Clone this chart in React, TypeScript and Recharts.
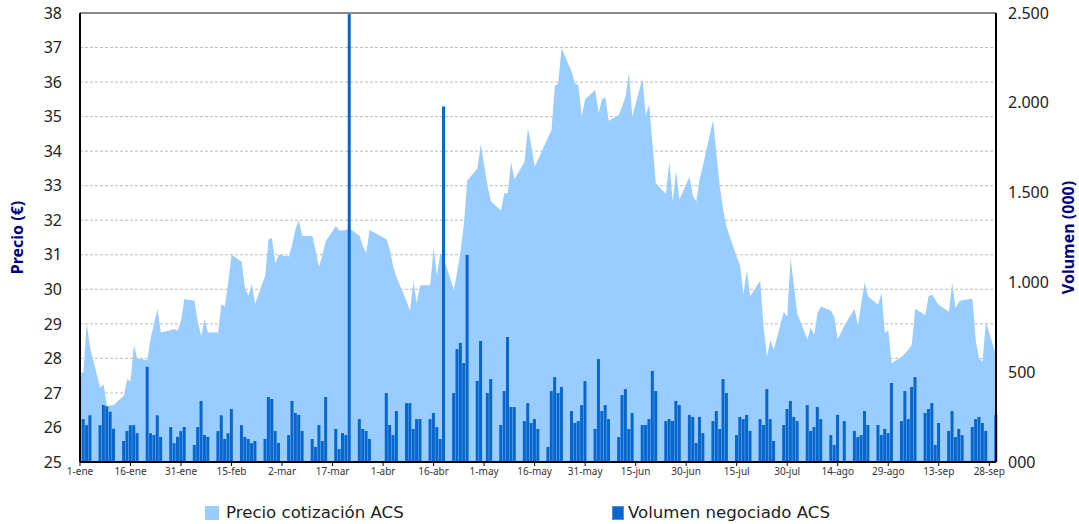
import {
  ComposedChart,
  Area,
  Bar,
  XAxis,
  YAxis,
  CartesianGrid,
  ReferenceLine,
  Label,
} from 'recharts';

// dias desde el 1-ene (sesiones de bolsa)
const dias = [
  0, 1, 2, 3,
  6, 7, 8, 9, 10,
  13, 14, 15, 16, 17,
  20, 21, 22, 23, 24,
  27, 28, 29, 30, 31,
  34, 35, 36, 37, 38,
  41, 42, 43, 44, 45,
  48, 49, 50, 51, 52,
  55, 56, 57, 58, 59,
  62, 63, 64, 65, 66,
  69, 70, 71, 72, 73,
  76, 77, 78, 79, 80,
  83, 84, 85, 86,
  91, 92, 93, 94,
  97, 98, 99, 100, 101,
  104, 105, 106, 107, 108,
  111, 112, 113, 114, 115,
  118, 119, 121, 122,
  125, 126, 127, 128, 129,
  132, 133, 134, 135, 136,
  139, 140, 141, 142, 143,
  146, 147, 148, 149, 150,
  153, 154, 155, 156, 157,
  160, 161, 162, 163, 164,
  167, 168, 169, 170, 171,
  174, 175, 176, 177, 178,
  181, 182, 183, 184, 185,
  188, 189, 190, 191, 192,
  195, 196, 197, 198, 199,
  202, 203, 204, 205, 206,
  209, 210, 211, 212, 213,
  216, 217, 218, 219, 220,
  223, 224, 225, 227,
  230, 231, 232, 233, 234,
  237, 238, 239, 240, 241,
  244, 245, 246, 247, 248,
  251, 252, 253, 254, 255,
  258, 259, 260, 261, 262,
  265, 266, 267, 268, 269,
  272,
];

const precio = [
  27.57, 27.6, 29.02, 28.3,
  27.15, 27.25, 26.63, 26.63, 26.65,
  26.92, 27.4, 27.33, 28.38, 28.0,
  27.95, 28.6, 29.0, 29.43, 28.75,
  28.82, 28.85, 28.8, 29.1, 29.72,
  29.67, 29.04, 28.65, 29.14, 28.75,
  28.75, 29.57, 29.5, 30.2, 31.0,
  30.8, 30.03, 29.81, 30.15, 29.57,
  30.4, 31.45, 31.48, 30.75, 31.0,
  30.95, 31.3, 31.75, 32.0, 31.54,
  31.54, 31.1, 30.65, 31.0, 31.4,
  31.83, 31.7, 31.7, 31.72, 31.77,
  31.55, 31.25, 31.05, 31.72,
  31.45, 31.15, 30.65, 30.35,
  29.65, 29.38, 30.22, 29.6, 30.12,
  30.12, 31.2, 30.4, 31.05, 30.9,
  29.98, 30.5, 31.1, 31.9, 33.15,
  33.5, 34.2, 33.0, 32.55,
  32.28, 32.78, 32.78, 33.68, 33.19,
  33.69, 34.66, 34.18, 33.55, 33.75,
  34.4, 34.6, 35.89, 35.96, 36.98,
  36.3, 35.96, 35.91, 35.0, 35.5,
  35.77, 35.1, 35.5, 35.55, 34.88,
  35.05, 35.3, 35.58, 36.27, 35.0,
  36.1, 35.05, 35.34, 34.2, 33.07,
  32.76, 33.69, 32.54, 33.43, 32.6,
  33.26, 32.7, 32.54, 33.2, 33.6,
  34.9, 33.9, 32.97, 32.3, 31.8,
  30.95, 30.7, 29.85, 30.55, 29.8,
  30.25, 28.9, 28.05, 28.53, 28.24,
  29.35, 29.2, 30.9, 30.1, 29.3,
  28.55, 28.9, 28.68, 29.3, 29.5,
  29.38, 29.2, 28.55, 28.95,
  29.44, 28.96, 29.6, 30.2, 29.79,
  29.55, 29.9, 28.73, 28.82, 27.86,
  28.05, 28.15, 28.25, 28.4, 29.44,
  29.25, 29.8, 29.85, 29.7, 29.55,
  29.35, 30.19, 29.45, 29.65, 29.68,
  29.73, 28.5, 28.0, 27.9, 29.05,
  28.1,
];

// miles de títulos
const volumen = [
  null, 239, 205, 260,
  205, 317, 310, 280, 185,
  117, 172, 205, 205, 160,
  530, 160, 150, 260, 140,
  195, 105, 140, 172, 195,
  95, 195, 340, 150, 140,
  172, 260, 128, 160, 295,
  205, 140, 128, 105, 117,
  128, 362, 351, 173, 106,
  150, 340, 273, 262, 173,
  128, 84, 206, 117, 362,
  184, 72, 161, 150, 2500,
  239, 184, 173, 128,
  384, 206, 150, 284,
  328, 328, 184, 239, 239,
  239, 273, 195, 128, 1980,
  384, 629, 663, 551, 1153,
  451, 674, 384, 462,
  206, 395, 696, 306, 306,
  228, 328, 217, 239, 184,
  84, 395, 473, 384, 418,
  284, 217, 228, 317, 451,
  184, 573, 284, 317, 239,
  139, 373, 406, 184, 273,
  206, 206, 239, 507, 395,
  228, 239, 228, 340, 317,
  262, 251, 106, 251, 161,
  228, 284, 184, 462, 384,
  150, 251, 239, 262, 173,
  239, 206, 406, 239, 117,
  206, 295, 340, 251, 228,
  317, 173, 195, 306, 239,
  150, 95, 262, 228,
  173, 139, 150, 284, 206,
  206, 150, 184, 161, 440,
  228, 395, 239, 418, 473,
  273, 295, 328, 95, 217,
  173, 284, 139, 184, 150,
  195, 239, 251, 217, 173,
  262,
];

const etiquetasFecha = [
  '1-ene', '16-ene', '31-ene', '15-feb', '2-mar', '17-mar', '1-abr',
  '16-abr', '1-may', '16-may', '31-may', '15-jun', '30-jun', '15-jul',
  '30-jul', '14-ago', '29-ago', '13-sep', '28-sep',
];
const ticksFecha = etiquetasFecha.map((_, i) => i * 15);

const ticksPrecio = [25, 26, 27, 28, 29, 30, 31, 32, 33, 34, 35, 36, 37, 38];
const ticksVolumen = [0, 500, 1000, 1500, 2000, 2500];

const data = dias.map((d, i) => ({
  dia: d,
  precio: precio[i],
  volumen: volumen[i],
}));

const formatVolumen = (v: number) => {
  if (v === 0) return '000';
  const s = String(v);
  return s.length > 3 ? s.slice(0, s.length - 3) + '.' + s.slice(-3) : s;
};

const AZUL_CLARO = '#99CCFF';
const AZUL = '#0866CC';

export default function App() {
  return (
    <div style={{ position: 'relative', width: 1079, height: 524, fontFamily: 'Noto Sans' }}>
      <style>{'body{margin:0}'}</style>
      <ComposedChart
        width={1079}
        height={524}
        data={data}
        margin={{ top: 13, right: 0, bottom: 32, left: 0 }}
      >
        <CartesianGrid
          yAxisId="left"
          vertical={false}
          stroke="#bbbbbb"
          strokeDasharray="3 2"
        />
        <XAxis
          dataKey="dia"
          type="number"
          domain={[0, 272]}
          ticks={ticksFecha}
          tickFormatter={(v) => etiquetasFecha[v / 15]}
          interval={0}
          height={30}
          tick={{ fontSize: 10, fill: '#333' }}
          tickSize={4}
          tickLine={{ stroke: '#000' }}
          axisLine={{ stroke: '#000', strokeWidth: 2 }}
        />
        <YAxis
          yAxisId="left"
          domain={[25, 38]}
          ticks={ticksPrecio}
          interval={0}
          width={80}
          tickSize={0}
          tickMargin={18}
          tick={{ fontSize: 16, fill: '#222' }}
          axisLine={{ stroke: '#000', strokeWidth: 2 }}
        >
          <Label
            content={({ viewBox }: any) => {
              const x = viewBox.x + 17;
              const y = viewBox.y + viewBox.height / 2;
              return (
                <text
                  x={x}
                  y={y}
                  transform={`rotate(-90 ${x} ${y})`}
                  textAnchor="middle"
                  dominantBaseline="central"
                  fill="#000080"
                  fontWeight="bold"
                  fontSize={16}
                >
                  Precio (€)
                </text>
              );
            }}
          />
        </YAxis>
        <YAxis
          yAxisId="right"
          orientation="right"
          domain={[0, 2500]}
          ticks={ticksVolumen}
          interval={0}
          width={83}
          tickSize={0}
          tickMargin={12}
          tickFormatter={formatVolumen}
          tick={{ fontSize: 16, fill: '#222', textAnchor: 'start' }}
          axisLine={{ stroke: '#000', strokeWidth: 2 }}
        >
          <Label
            content={({ viewBox }: any) => {
              const x = viewBox.x + 72;
              const y = viewBox.y + viewBox.height / 2;
              return (
                <text
                  x={x}
                  y={y}
                  transform={`rotate(-90 ${x} ${y})`}
                  textAnchor="middle"
                  dominantBaseline="central"
                  fill="#000080"
                  fontWeight="bold"
                  fontSize={16}
                >
                  Volumen (000)
                </text>
              );
            }}
          />
        </YAxis>
        <Area
          yAxisId="left"
          type="linear"
          dataKey="precio"
          stroke="none"
          fill={AZUL_CLARO}
          fillOpacity={1}
          dot={false}
          activeDot={false}
          isAnimationActive={false}
        />
        <Bar
          yAxisId="right"
          dataKey="volumen"
          fill={AZUL}
          barSize={3}
          isAnimationActive={false}
        />
        <ReferenceLine yAxisId="left" y={38} stroke="#888" strokeWidth={2} />
      </ComposedChart>
      <div
        style={{
          position: 'absolute',
          left: 205,
          top: 505,
          display: 'flex',
          alignItems: 'center',
          fontFamily: 'DejaVu Sans',
        }}
      >
        <span style={{ width: 14, height: 14, background: AZUL_CLARO, display: 'inline-block' }} />
        <span style={{ marginLeft: 7, fontSize: 16.6, color: '#222', lineHeight: '16px' }}>
          Precio cotización ACS
        </span>
      </div>
      <div
        style={{
          position: 'absolute',
          left: 612,
          top: 505,
          display: 'flex',
          alignItems: 'center',
          fontFamily: 'DejaVu Sans',
        }}
      >
        <span
          style={{
            width: 10,
            height: 12,
            background: AZUL,
            border: '1px solid #4d94e0',
            display: 'inline-block',
          }}
        />
        <span style={{ marginLeft: 4, fontSize: 16.6, color: '#222', lineHeight: '16px' }}>
          Volumen negociado ACS
        </span>
      </div>
    </div>
  );
}
